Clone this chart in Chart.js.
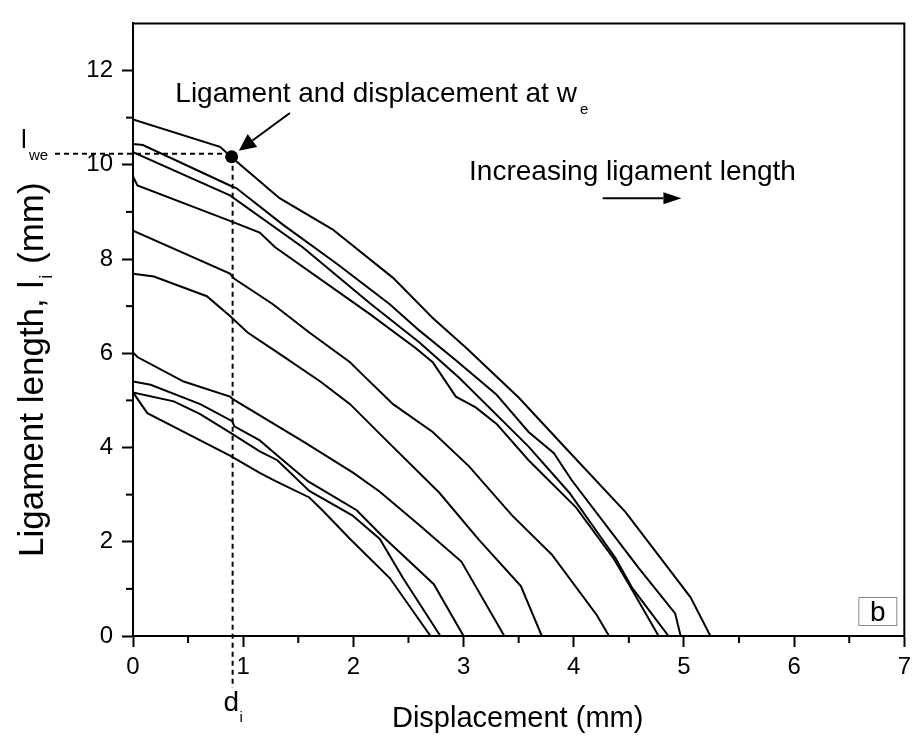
<!DOCTYPE html>
<html><head><meta charset="utf-8">
<script src="https://cdn.jsdelivr.net/npm/chart.js@4"></script>
<style>html,body{margin:0;padding:0;background:#fff;}#wrap{width:917px;height:736px;position:relative;}</style>
</head><body><div id="wrap"><canvas id="c"></canvas></div>
<script>
// ---- data (displacement mm, ligament length mm) ----
const curve1 = [[0,10.96],[0.79,10.38],[0.9,10.15],[1.33,9.29],[1.81,8.63],[2.36,7.6],[2.72,6.75],[3.02,6.12],[3.5,5.06],[3.93,3.98],[4.47,2.63],[5.06,0.82],[5.24,0]];
const curve2 = [[0,10.44],[0.09,10.42],[0.88,9.56],[0.94,9.5],[1.36,8.73],[1.85,7.9],[2.33,7.04],[2.6,6.48],[2.93,5.85],[3.3,5.12],[3.59,4.33],[3.82,3.88],[3.98,3.31],[4.32,2.27],[4.59,1.44],[4.92,0.48],[4.97,0]];
const curve3 = [[0,10.27],[0.88,9.35],[1.54,8.25],[2.15,7.06],[2.6,6.23],[2.96,5.48],[3.59,4.02],[3.96,3.04],[4.38,1.65],[4.53,1.02],[4.86,0]];
const curve4 = [[0,9.75],[0.04,9.56],[0.88,8.81],[1.15,8.56],[1.29,8.25],[2.15,6.83],[2.57,6.1],[2.72,5.81],[2.93,5.08],[3.11,4.85],[3.3,4.5],[3.59,3.73],[4.02,2.73],[4.36,1.65],[4.5,1.1],[4.77,0]];
const curve5 = [[0,8.6],[0.88,7.69],[0.92,7.58],[1.27,7.04],[1.6,6.44],[1.97,5.81],[2.06,5.6],[2.36,4.92],[2.72,4.33],[3.05,3.6],[3.44,2.56],[3.8,1.73],[4.21,0.44],[4.32,0]];
const curve6 = [[0,7.69],[0.19,7.63],[0.67,7.21],[0.88,6.79],[1.04,6.44],[1.31,6.02],[1.7,5.4],[1.97,4.92],[2.24,4.29],[2.78,3.04],[3.14,2.04],[3.52,1.06],[3.71,0]];
const curve7 = [[0,6.02],[0.04,5.92],[0.46,5.4],[0.88,5.08],[0.91,5.02],[1.55,4.12],[2.0,3.46],[2.24,3.06],[2.6,2.35],[2.98,1.58],[3.37,0]];
const curve8 = [[0,5.4],[0.16,5.33],[0.61,4.92],[0.9,4.56],[0.92,4.45],[1.15,4.15],[1.31,3.83],[1.59,3.28],[2.03,2.67],[2.25,2.15],[2.51,1.58],[2.73,1.1],[3.0,0]];
const curve9 = [[0,5.17],[0.37,4.98],[0.61,4.71],[0.9,4.29],[1.15,3.92],[1.31,3.73],[1.6,3.08],[1.99,2.56],[2.24,2.06],[2.45,1.23],[2.79,0]];
const curve10 = [[0,5.17],[0.13,4.73],[0.88,3.83],[1.15,3.46],[1.29,3.29],[1.6,2.94],[1.71,2.69],[1.97,2.06],[2.33,1.23],[2.7,0]];
const curves = [curve1,curve2,curve3,curve4,curve5,curve6,curve7,curve8,curve9,curve10];
const markerPoint = [0.895, 10.17];
const xTicks = [0,1,2,3,4,5,6,7];
const yTicks = [0,2,4,6,8,10,12];
const xMinor = [0.5,1.5,2.5,3.5,4.5,5.5,6.5];
const yMinor = [1,3,5,7,9,11];
const xTitle = 'Displacement (mm)';
const yTitleParts = ['Ligament length, l', 'i', ' (mm)'];
const noteText = 'Ligament and displacement at w';
const noteSub = 'e';
const incText = 'Increasing ligament length';

const FONT = "'Liberation Sans', Arial, sans-serif";

const datasets = curves.map(c => ({
  data: c.map(p => ({x:p[0], y:p[1]})),
  showLine: true, borderColor:'#000', borderWidth:2, pointRadius:0, tension:0, fill:false
}));
datasets.push({data:[{x:markerPoint[0], y:markerPoint[1]}], showLine:false, pointRadius:6.5, pointBackgroundColor:'#000', pointBorderColor:'#000', pointBorderWidth:0});

function arrow(ctx, x1,y1,x2,y2, hl, hw){
  const a = Math.atan2(y2-y1, x2-x1);
  const bx = x2 - hl*Math.cos(a), by = y2 - hl*Math.sin(a);
  ctx.beginPath(); ctx.moveTo(x1,y1); ctx.lineTo(bx,by); ctx.stroke();
  ctx.beginPath(); ctx.moveTo(x2,y2);
  ctx.lineTo(bx + hw*Math.sin(a), by - hw*Math.cos(a));
  ctx.lineTo(bx - hw*Math.sin(a), by + hw*Math.cos(a));
  ctx.closePath(); ctx.fill();
}

const deco = {
  id:'deco',
  beforeDatasetsDraw(chart){
    const {ctx, chartArea:ca, scales:{x,y}} = chart;
    ctx.save();
    ctx.strokeStyle='#000'; ctx.lineWidth=2; ctx.setLineDash([5,4]);
    const mx = x.getPixelForValue(markerPoint[0]), my = y.getPixelForValue(markerPoint[1]);
    ctx.beginPath(); ctx.moveTo(55, my-3); ctx.lineTo(mx, my-3); ctx.stroke();
    ctx.beginPath(); ctx.moveTo(mx+1, my); ctx.lineTo(mx+1, ca.bottom+52); ctx.stroke();
    ctx.restore();
  },
  afterDraw(chart){
    const {ctx, chartArea:ca, scales:{x,y}} = chart;
    ctx.save();
    ctx.strokeStyle='#000'; ctx.fillStyle='#000'; ctx.lineWidth=2; ctx.setLineDash([]);
    // frame top/right
    ctx.beginPath(); ctx.moveTo(ca.left, ca.top); ctx.lineTo(ca.right, ca.top); ctx.lineTo(ca.right, ca.bottom); ctx.stroke();
    // minor ticks
    xMinor.forEach(v=>{const px=x.getPixelForValue(v); ctx.beginPath(); ctx.moveTo(px, ca.bottom); ctx.lineTo(px, ca.bottom+7); ctx.stroke();});
    yMinor.forEach(v=>{const py=y.getPixelForValue(v); ctx.beginPath(); ctx.moveTo(ca.left, py); ctx.lineTo(ca.left-7, py); ctx.stroke();});
    // axis titles
    ctx.font = '29px '+FONT; ctx.textAlign='center'; ctx.textBaseline='alphabetic';
    ctx.fillText(xTitle, (ca.left+ca.right)/2 - 1, 727);
    ctx.save();
    ctx.translate(43, 557); ctx.rotate(-Math.PI/2); ctx.textAlign='left';
    ctx.font = '35px '+FONT;
    let w0 = ctx.measureText(yTitleParts[0]).width;
    ctx.fillText(yTitleParts[0], 0, 0);
    ctx.font = '18px '+FONT;
    ctx.fillText(yTitleParts[1], w0+2, 9);
    let w1 = ctx.measureText(yTitleParts[1]).width;
    ctx.font = '35px '+FONT;
    ctx.fillText(yTitleParts[2], w0+w1+3, 0);
    ctx.restore();
    // d_i and l_we
    const mx = x.getPixelForValue(markerPoint[0]), my = y.getPixelForValue(markerPoint[1]);
    ctx.textAlign='left';
    ctx.font = '28px '+FONT; ctx.fillText('d', mx-8, 711);
    ctx.font = '15px '+FONT; ctx.fillText('i', mx+8, 722);
    ctx.font = '26px '+FONT; ctx.fillText('l', 21, my-9);
    ctx.font = '15px '+FONT; ctx.fillText('we', 29, my+3);
    // annotations
    ctx.font = '28px '+FONT;
    const tx = x.getPixelForValue(0.384), ty = y.getPixelForValue(11.33);
    ctx.fillText(noteText, tx, ty);
    const tw = ctx.measureText(noteText).width;
    ctx.font = '15px '+FONT; ctx.fillText(noteSub, tx+tw+3, ty+12);
    ctx.font = '28px '+FONT;
    ctx.fillText(incText, x.getPixelForValue(3.05), y.getPixelForValue(9.67));
    ctx.lineWidth = 2;
    arrow(ctx, x.getPixelForValue(1.424), y.getPixelForValue(11.10), x.getPixelForValue(0.96), y.getPixelForValue(10.30), 17, 8);
    arrow(ctx, x.getPixelForValue(4.263), y.getPixelForValue(9.29), x.getPixelForValue(4.977), y.getPixelForValue(9.29), 18, 6);
    // b box
    ctx.lineWidth=1; ctx.strokeStyle='#888';
    ctx.strokeRect(ca.right-45.5, ca.bottom-38.5, 38, 28);
    ctx.fillStyle='#000'; ctx.font='28px '+FONT; ctx.textAlign='center';
    ctx.fillText('b', ca.right-26.5, ca.bottom-15);
    ctx.restore();
  }
};

new Chart(document.getElementById('c'), {
  type:'scatter',
  data:{datasets},
  options:{
    responsive:true, maintainAspectRatio:false, animation:false,
    layout:{padding:{left:0, right:10, top:12, bottom:0}},
    plugins:{legend:{display:false}, tooltip:{enabled:false}},
    scales:{
      x:{type:'linear', min:0, max:7,
        afterBuildTicks:s=>{s.ticks = xTicks.map(v=>({value:v}));},
        afterFit:s=>{s.height=100;},
        ticks:{color:'#000', font:{family:FONT, size:24}, padding:6, maxRotation:0, autoSkip:false},
        grid:{drawOnChartArea:false, drawTicks:true, tickLength:11, tickWidth:2, tickColor:'#000'},
        border:{display:true, color:'#000', width:2}
      },
      y:{type:'linear', min:0, max:13,
        afterBuildTicks:s=>{s.ticks = yTicks.map(v=>({value:v}));},
        afterFit:s=>{s.width=133;},
        ticks:{color:'#000', font:{family:FONT, size:24}, padding:9, autoSkip:false},
        grid:{drawOnChartArea:false, drawTicks:true, tickLength:11, tickWidth:2, tickColor:'#000'},
        border:{display:true, color:'#000', width:2}
      }
    }
  },
  plugins:[deco]
});
</script></body></html>
